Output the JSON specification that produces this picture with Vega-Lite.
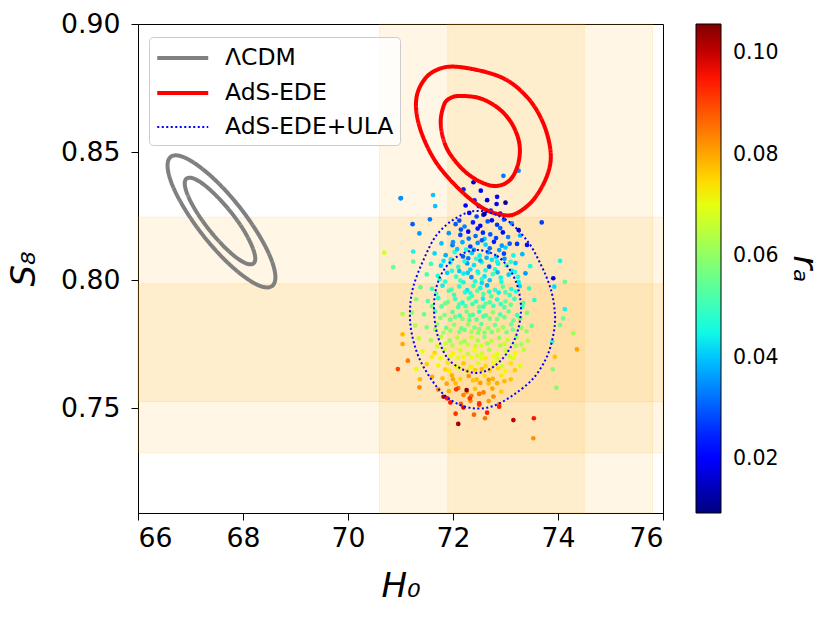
{
  "$schema": "https://vega.github.io/schema/vega-lite/v6.json",
  "description": "H0 vs S8 posterior contours with AdS-EDE+ULA samples coloured by r_a",
  "width": 525,
  "height": 489,
  "autosize": "none",
  "padding": {"left": 138, "top": 24, "right": 168, "bottom": 108},
  "config": {
    "view": {"stroke": "black", "strokeWidth": 1},
    "font": "DejaVu Sans",
    "axis": {
      "grid": false,
      "domainColor": "black",
      "tickColor": "black",
      "tickSize": 7,
      "labelColor": "black",
      "labelFont": "DejaVu Sans",
      "labelFontSize": 26.7,
      "titleColor": "black",
      "titleFont": "DejaVu Sans",
      "titleFontSize": 34,
      "titleFontStyle": "italic",
      "titleFontWeight": "normal"
    },
    "legend": {
      "labelFont": "DejaVu Sans",
      "labelColor": "black",
      "titleFont": "DejaVu Sans",
      "titleColor": "black"
    }
  },
  "datasets": {
    "vband": [
      {"lo": 70.6, "hi": 75.8},
      {"lo": 71.9, "hi": 74.5}
    ],
    "hband": [
      {"lo": 0.7325, "hi": 0.8245},
      {"lo": 0.7525, "hi": 0.7985}
    ],
    "contours": [
      {"model": "ΛCDM", "level": "L2", "i": 0, "H0": 68.558, "S8": 0.7977},
      {"model": "ΛCDM", "level": "L2", "i": 1, "H0": 68.352, "S8": 0.7975},
      {"model": "ΛCDM", "level": "L2", "i": 2, "H0": 68.030, "S8": 0.8012},
      {"model": "ΛCDM", "level": "L2", "i": 3, "H0": 67.642, "S8": 0.8081},
      {"model": "ΛCDM", "level": "L2", "i": 4, "H0": 67.245, "S8": 0.8173},
      {"model": "ΛCDM", "level": "L2", "i": 5, "H0": 66.901, "S8": 0.8274},
      {"model": "ΛCDM", "level": "L2", "i": 6, "H0": 66.662, "S8": 0.8367},
      {"model": "ΛCDM", "level": "L2", "i": 7, "H0": 66.564, "S8": 0.8440},
      {"model": "ΛCDM", "level": "L2", "i": 8, "H0": 66.622, "S8": 0.8481},
      {"model": "ΛCDM", "level": "L2", "i": 9, "H0": 66.828, "S8": 0.8483},
      {"model": "ΛCDM", "level": "L2", "i": 10, "H0": 67.150, "S8": 0.8446},
      {"model": "ΛCDM", "level": "L2", "i": 11, "H0": 67.538, "S8": 0.8377},
      {"model": "ΛCDM", "level": "L2", "i": 12, "H0": 67.935, "S8": 0.8285},
      {"model": "ΛCDM", "level": "L2", "i": 13, "H0": 68.279, "S8": 0.8184},
      {"model": "ΛCDM", "level": "L2", "i": 14, "H0": 68.518, "S8": 0.8091},
      {"model": "ΛCDM", "level": "L2", "i": 15, "H0": 68.616, "S8": 0.8018},
      {"model": "ΛCDM", "level": "L1", "i": 0, "H0": 68.200, "S8": 0.8065},
      {"model": "ΛCDM", "level": "L1", "i": 1, "H0": 68.071, "S8": 0.8064},
      {"model": "ΛCDM", "level": "L1", "i": 2, "H0": 67.865, "S8": 0.8089},
      {"model": "ΛCDM", "level": "L1", "i": 3, "H0": 67.613, "S8": 0.8136},
      {"model": "ΛCDM", "level": "L1", "i": 4, "H0": 67.353, "S8": 0.8197},
      {"model": "ΛCDM", "level": "L1", "i": 5, "H0": 67.124, "S8": 0.8263},
      {"model": "ΛCDM", "level": "L1", "i": 6, "H0": 66.963, "S8": 0.8324},
      {"model": "ΛCDM", "level": "L1", "i": 7, "H0": 66.892, "S8": 0.8371},
      {"model": "ΛCDM", "level": "L1", "i": 8, "H0": 66.924, "S8": 0.8396},
      {"model": "ΛCDM", "level": "L1", "i": 9, "H0": 67.053, "S8": 0.8397},
      {"model": "ΛCDM", "level": "L1", "i": 10, "H0": 67.259, "S8": 0.8372},
      {"model": "ΛCDM", "level": "L1", "i": 11, "H0": 67.511, "S8": 0.8325},
      {"model": "ΛCDM", "level": "L1", "i": 12, "H0": 67.771, "S8": 0.8265},
      {"model": "ΛCDM", "level": "L1", "i": 13, "H0": 68.000, "S8": 0.8199},
      {"model": "ΛCDM", "level": "L1", "i": 14, "H0": 68.161, "S8": 0.8137},
      {"model": "ΛCDM", "level": "L1", "i": 15, "H0": 68.232, "S8": 0.8090},
      {"model": "AdS-EDE", "level": "E2", "i": 0, "H0": 72.070, "S8": 0.8833},
      {"model": "AdS-EDE", "level": "E2", "i": 1, "H0": 72.895, "S8": 0.8794},
      {"model": "AdS-EDE", "level": "E2", "i": 2, "H0": 73.404, "S8": 0.8716},
      {"model": "AdS-EDE", "level": "E2", "i": 3, "H0": 73.720, "S8": 0.8612},
      {"model": "AdS-EDE", "level": "E2", "i": 4, "H0": 73.861, "S8": 0.8495},
      {"model": "AdS-EDE", "level": "E2", "i": 5, "H0": 73.785, "S8": 0.8404},
      {"model": "AdS-EDE", "level": "E2", "i": 6, "H0": 73.530, "S8": 0.8313},
      {"model": "AdS-EDE", "level": "E2", "i": 7, "H0": 73.213, "S8": 0.8261},
      {"model": "AdS-EDE", "level": "E2", "i": 8, "H0": 72.958, "S8": 0.8254},
      {"model": "AdS-EDE", "level": "E2", "i": 9, "H0": 72.577, "S8": 0.8280},
      {"model": "AdS-EDE", "level": "E2", "i": 10, "H0": 72.133, "S8": 0.8352},
      {"model": "AdS-EDE", "level": "E2", "i": 11, "H0": 71.690, "S8": 0.8456},
      {"model": "AdS-EDE", "level": "E2", "i": 12, "H0": 71.404, "S8": 0.8573},
      {"model": "AdS-EDE", "level": "E2", "i": 13, "H0": 71.295, "S8": 0.8677},
      {"model": "AdS-EDE", "level": "E2", "i": 14, "H0": 71.371, "S8": 0.8755},
      {"model": "AdS-EDE", "level": "E2", "i": 15, "H0": 71.625, "S8": 0.8814},
      {"model": "AdS-EDE", "level": "E1", "i": 0, "H0": 72.133, "S8": 0.8719},
      {"model": "AdS-EDE", "level": "E1", "i": 1, "H0": 72.514, "S8": 0.8710},
      {"model": "AdS-EDE", "level": "E1", "i": 2, "H0": 72.863, "S8": 0.8671},
      {"model": "AdS-EDE", "level": "E1", "i": 3, "H0": 73.118, "S8": 0.8612},
      {"model": "AdS-EDE", "level": "E1", "i": 4, "H0": 73.263, "S8": 0.8534},
      {"model": "AdS-EDE", "level": "E1", "i": 5, "H0": 73.244, "S8": 0.8456},
      {"model": "AdS-EDE", "level": "E1", "i": 6, "H0": 73.086, "S8": 0.8391},
      {"model": "AdS-EDE", "level": "E1", "i": 7, "H0": 72.800, "S8": 0.8367},
      {"model": "AdS-EDE", "level": "E1", "i": 8, "H0": 72.451, "S8": 0.8391},
      {"model": "AdS-EDE", "level": "E1", "i": 9, "H0": 72.133, "S8": 0.8443},
      {"model": "AdS-EDE", "level": "E1", "i": 10, "H0": 71.867, "S8": 0.8521},
      {"model": "AdS-EDE", "level": "E1", "i": 11, "H0": 71.766, "S8": 0.8612},
      {"model": "AdS-EDE", "level": "E1", "i": 12, "H0": 71.829, "S8": 0.8684},
      {"model": "AdS-EDE", "level": "E1", "i": 13, "H0": 71.943, "S8": 0.8710},
      {"model": "AdS-EDE+ULA", "level": "U2", "i": 0, "H0": 72.476, "S8": 0.8270},
      {"model": "AdS-EDE+ULA", "level": "U2", "i": 1, "H0": 72.990, "S8": 0.8238},
      {"model": "AdS-EDE+ULA", "level": "U2", "i": 2, "H0": 73.404, "S8": 0.8156},
      {"model": "AdS-EDE+ULA", "level": "U2", "i": 3, "H0": 73.676, "S8": 0.8059},
      {"model": "AdS-EDE+ULA", "level": "U2", "i": 4, "H0": 73.867, "S8": 0.7961},
      {"model": "AdS-EDE+ULA", "level": "U2", "i": 5, "H0": 73.943, "S8": 0.7863},
      {"model": "AdS-EDE+ULA", "level": "U2", "i": 6, "H0": 73.910, "S8": 0.7785},
      {"model": "AdS-EDE+ULA", "level": "U2", "i": 7, "H0": 73.785, "S8": 0.7699},
      {"model": "AdS-EDE+ULA", "level": "U2", "i": 8, "H0": 73.530, "S8": 0.7616},
      {"model": "AdS-EDE+ULA", "level": "U2", "i": 9, "H0": 73.149, "S8": 0.7551},
      {"model": "AdS-EDE+ULA", "level": "U2", "i": 10, "H0": 72.768, "S8": 0.7508},
      {"model": "AdS-EDE+ULA", "level": "U2", "i": 11, "H0": 72.387, "S8": 0.7499},
      {"model": "AdS-EDE+ULA", "level": "U2", "i": 12, "H0": 72.006, "S8": 0.7525},
      {"model": "AdS-EDE+ULA", "level": "U2", "i": 13, "H0": 71.690, "S8": 0.7583},
      {"model": "AdS-EDE+ULA", "level": "U2", "i": 14, "H0": 71.371, "S8": 0.7688},
      {"model": "AdS-EDE+ULA", "level": "U2", "i": 15, "H0": 71.213, "S8": 0.7792},
      {"model": "AdS-EDE+ULA", "level": "U2", "i": 16, "H0": 71.181, "S8": 0.7883},
      {"model": "AdS-EDE+ULA", "level": "U2", "i": 17, "H0": 71.244, "S8": 0.7974},
      {"model": "AdS-EDE+ULA", "level": "U2", "i": 18, "H0": 71.437, "S8": 0.8078},
      {"model": "AdS-EDE+ULA", "level": "U2", "i": 19, "H0": 71.690, "S8": 0.8176},
      {"model": "AdS-EDE+ULA", "level": "U2", "i": 20, "H0": 72.057, "S8": 0.8242},
      {"model": "AdS-EDE+ULA", "level": "U1", "i": 0, "H0": 72.476, "S8": 0.8117},
      {"model": "AdS-EDE+ULA", "level": "U1", "i": 1, "H0": 72.838, "S8": 0.8094},
      {"model": "AdS-EDE+ULA", "level": "U1", "i": 2, "H0": 73.086, "S8": 0.8039},
      {"model": "AdS-EDE+ULA", "level": "U1", "i": 3, "H0": 73.238, "S8": 0.7969},
      {"model": "AdS-EDE+ULA", "level": "U1", "i": 4, "H0": 73.295, "S8": 0.7883},
      {"model": "AdS-EDE+ULA", "level": "U1", "i": 5, "H0": 73.219, "S8": 0.7793},
      {"model": "AdS-EDE+ULA", "level": "U1", "i": 6, "H0": 73.029, "S8": 0.7715},
      {"model": "AdS-EDE+ULA", "level": "U1", "i": 7, "H0": 72.762, "S8": 0.7660},
      {"model": "AdS-EDE+ULA", "level": "U1", "i": 8, "H0": 72.457, "S8": 0.7637},
      {"model": "AdS-EDE+ULA", "level": "U1", "i": 9, "H0": 72.133, "S8": 0.7656},
      {"model": "AdS-EDE+ULA", "level": "U1", "i": 10, "H0": 71.867, "S8": 0.7703},
      {"model": "AdS-EDE+ULA", "level": "U1", "i": 11, "H0": 71.695, "S8": 0.7793},
      {"model": "AdS-EDE+ULA", "level": "U1", "i": 12, "H0": 71.638, "S8": 0.7891},
      {"model": "AdS-EDE+ULA", "level": "U1", "i": 13, "H0": 71.695, "S8": 0.7980},
      {"model": "AdS-EDE+ULA", "level": "U1", "i": 14, "H0": 71.867, "S8": 0.8051},
      {"model": "AdS-EDE+ULA", "level": "U1", "i": 15, "H0": 72.133, "S8": 0.8098}
    ],
    "samples": [
      {"H0": 72.31, "S8": 0.8262, "ra": 0.022}, {"H0": 72.58, "S8": 0.8255, "ra": 0.018}, {"H0": 72.72, "S8": 0.8271, "ra": 0.025}, {"H0": 72.45, "S8": 0.8248, "ra": 0.028}, {"H0": 72.90, "S8": 0.8259, "ra": 0.020},
      {"H0": 72.05, "S8": 0.8218, "ra": 0.030}, {"H0": 72.38, "S8": 0.8225, "ra": 0.024}, {"H0": 72.52, "S8": 0.8212, "ra": 0.020}, {"H0": 72.66, "S8": 0.8229, "ra": 0.030}, {"H0": 72.84, "S8": 0.8216, "ra": 0.026}, {"H0": 73.12, "S8": 0.8221, "ra": 0.035}, {"H0": 72.22, "S8": 0.8209, "ra": 0.034},
      {"H0": 71.92, "S8": 0.8183, "ra": 0.036}, {"H0": 72.14, "S8": 0.8176, "ra": 0.028}, {"H0": 72.29, "S8": 0.8189, "ra": 0.021}, {"H0": 72.43, "S8": 0.8172, "ra": 0.032}, {"H0": 72.57, "S8": 0.8185, "ra": 0.025}, {"H0": 72.71, "S8": 0.8178, "ra": 0.030}, {"H0": 72.95, "S8": 0.8186, "ra": 0.020}, {"H0": 73.28, "S8": 0.8174, "ra": 0.038}, {"H0": 72.60, "S8": 0.8161, "ra": 0.040},
      {"H0": 71.78, "S8": 0.8143, "ra": 0.040}, {"H0": 71.99, "S8": 0.8136, "ra": 0.033}, {"H0": 72.18, "S8": 0.8148, "ra": 0.038}, {"H0": 72.33, "S8": 0.8131, "ra": 0.027}, {"H0": 72.47, "S8": 0.8145, "ra": 0.035}, {"H0": 72.62, "S8": 0.8138, "ra": 0.042}, {"H0": 72.78, "S8": 0.8149, "ra": 0.024}, {"H0": 72.93, "S8": 0.8134, "ra": 0.036}, {"H0": 73.08, "S8": 0.8142, "ra": 0.030}, {"H0": 73.41, "S8": 0.8137, "ra": 0.022}, {"H0": 72.25, "S8": 0.8119, "ra": 0.045},
      {"H0": 71.65, "S8": 0.8104, "ra": 0.042}, {"H0": 71.86, "S8": 0.8097, "ra": 0.038}, {"H0": 72.03, "S8": 0.8109, "ra": 0.046}, {"H0": 72.19, "S8": 0.8092, "ra": 0.030}, {"H0": 72.36, "S8": 0.8106, "ra": 0.040}, {"H0": 72.51, "S8": 0.8095, "ra": 0.044}, {"H0": 72.67, "S8": 0.8108, "ra": 0.036}, {"H0": 72.82, "S8": 0.8091, "ra": 0.041}, {"H0": 72.97, "S8": 0.8103, "ra": 0.028}, {"H0": 73.15, "S8": 0.8096, "ra": 0.045}, {"H0": 73.32, "S8": 0.8101, "ra": 0.039}, {"H0": 72.44, "S8": 0.8083, "ra": 0.048}, {"H0": 72.74, "S8": 0.8079, "ra": 0.043},
      {"H0": 71.58, "S8": 0.8063, "ra": 0.050}, {"H0": 71.77, "S8": 0.8056, "ra": 0.041}, {"H0": 71.95, "S8": 0.8068, "ra": 0.045}, {"H0": 72.10, "S8": 0.8051, "ra": 0.048}, {"H0": 72.27, "S8": 0.8065, "ra": 0.036}, {"H0": 72.40, "S8": 0.8058, "ra": 0.043}, {"H0": 72.55, "S8": 0.8069, "ra": 0.047}, {"H0": 72.69, "S8": 0.8052, "ra": 0.029}, {"H0": 72.86, "S8": 0.8064, "ra": 0.044}, {"H0": 73.02, "S8": 0.8057, "ra": 0.050}, {"H0": 73.19, "S8": 0.8066, "ra": 0.040}, {"H0": 73.47, "S8": 0.8054, "ra": 0.046}, {"H0": 72.33, "S8": 0.8041, "ra": 0.042}, {"H0": 72.62, "S8": 0.8038, "ra": 0.046},
      {"H0": 71.50, "S8": 0.8022, "ra": 0.052}, {"H0": 71.71, "S8": 0.8016, "ra": 0.046}, {"H0": 71.89, "S8": 0.8028, "ra": 0.041}, {"H0": 72.06, "S8": 0.8013, "ra": 0.049}, {"H0": 72.20, "S8": 0.8025, "ra": 0.044}, {"H0": 72.35, "S8": 0.8011, "ra": 0.035}, {"H0": 72.48, "S8": 0.8027, "ra": 0.047}, {"H0": 72.60, "S8": 0.8014, "ra": 0.043}, {"H0": 72.76, "S8": 0.8023, "ra": 0.050}, {"H0": 72.91, "S8": 0.8009, "ra": 0.045}, {"H0": 73.06, "S8": 0.8021, "ra": 0.041}, {"H0": 73.24, "S8": 0.8012, "ra": 0.048}, {"H0": 73.38, "S8": 0.8026, "ra": 0.036}, {"H0": 72.14, "S8": 0.7998, "ra": 0.050}, {"H0": 72.42, "S8": 0.7995, "ra": 0.046}, {"H0": 72.70, "S8": 0.7999, "ra": 0.040},
      {"H0": 71.38, "S8": 0.7972, "ra": 0.055}, {"H0": 71.60, "S8": 0.7966, "ra": 0.049}, {"H0": 71.80, "S8": 0.7978, "ra": 0.044}, {"H0": 71.97, "S8": 0.7963, "ra": 0.052}, {"H0": 72.12, "S8": 0.7975, "ra": 0.047}, {"H0": 72.27, "S8": 0.7961, "ra": 0.043}, {"H0": 72.39, "S8": 0.7977, "ra": 0.050}, {"H0": 72.52, "S8": 0.7968, "ra": 0.045}, {"H0": 72.65, "S8": 0.7979, "ra": 0.038}, {"H0": 72.80, "S8": 0.7962, "ra": 0.048}, {"H0": 72.95, "S8": 0.7974, "ra": 0.053}, {"H0": 73.11, "S8": 0.7965, "ra": 0.046}, {"H0": 73.27, "S8": 0.7976, "ra": 0.042}, {"H0": 73.45, "S8": 0.7967, "ra": 0.050}, {"H0": 72.33, "S8": 0.7949, "ra": 0.047}, {"H0": 72.58, "S8": 0.7945, "ra": 0.052}, {"H0": 72.87, "S8": 0.7951, "ra": 0.044},
      {"H0": 71.30, "S8": 0.7925, "ra": 0.058}, {"H0": 71.52, "S8": 0.7918, "ra": 0.052}, {"H0": 71.72, "S8": 0.7929, "ra": 0.048}, {"H0": 71.90, "S8": 0.7914, "ra": 0.055}, {"H0": 72.04, "S8": 0.7926, "ra": 0.050}, {"H0": 72.18, "S8": 0.7912, "ra": 0.046}, {"H0": 72.30, "S8": 0.7928, "ra": 0.053}, {"H0": 72.44, "S8": 0.7916, "ra": 0.049}, {"H0": 72.57, "S8": 0.7927, "ra": 0.044}, {"H0": 72.70, "S8": 0.7913, "ra": 0.051}, {"H0": 72.84, "S8": 0.7924, "ra": 0.047}, {"H0": 73.00, "S8": 0.7917, "ra": 0.055}, {"H0": 73.17, "S8": 0.7926, "ra": 0.049}, {"H0": 73.34, "S8": 0.7911, "ra": 0.053}, {"H0": 73.55, "S8": 0.7922, "ra": 0.047}, {"H0": 72.24, "S8": 0.7898, "ra": 0.052}, {"H0": 72.50, "S8": 0.7895, "ra": 0.056}, {"H0": 72.77, "S8": 0.7899, "ra": 0.050},
      {"H0": 71.22, "S8": 0.7873, "ra": 0.060}, {"H0": 71.45, "S8": 0.7866, "ra": 0.055}, {"H0": 71.66, "S8": 0.7878, "ra": 0.052}, {"H0": 71.84, "S8": 0.7863, "ra": 0.058}, {"H0": 71.99, "S8": 0.7875, "ra": 0.053}, {"H0": 72.13, "S8": 0.7861, "ra": 0.050}, {"H0": 72.26, "S8": 0.7877, "ra": 0.056}, {"H0": 72.38, "S8": 0.7864, "ra": 0.052}, {"H0": 72.50, "S8": 0.7876, "ra": 0.048}, {"H0": 72.63, "S8": 0.7862, "ra": 0.054}, {"H0": 72.76, "S8": 0.7874, "ra": 0.058}, {"H0": 72.90, "S8": 0.7865, "ra": 0.051}, {"H0": 73.06, "S8": 0.7877, "ra": 0.055}, {"H0": 73.22, "S8": 0.7863, "ra": 0.049}, {"H0": 73.41, "S8": 0.7872, "ra": 0.057}, {"H0": 72.18, "S8": 0.7848, "ra": 0.058}, {"H0": 72.45, "S8": 0.7845, "ra": 0.054}, {"H0": 72.70, "S8": 0.7849, "ra": 0.056},
      {"H0": 71.28, "S8": 0.7822, "ra": 0.063}, {"H0": 71.50, "S8": 0.7815, "ra": 0.058}, {"H0": 71.70, "S8": 0.7827, "ra": 0.061}, {"H0": 71.87, "S8": 0.7813, "ra": 0.056}, {"H0": 72.02, "S8": 0.7825, "ra": 0.059}, {"H0": 72.16, "S8": 0.7811, "ra": 0.055}, {"H0": 72.29, "S8": 0.7826, "ra": 0.060}, {"H0": 72.41, "S8": 0.7814, "ra": 0.057}, {"H0": 72.54, "S8": 0.7828, "ra": 0.053}, {"H0": 72.67, "S8": 0.7812, "ra": 0.060}, {"H0": 72.80, "S8": 0.7824, "ra": 0.056}, {"H0": 72.95, "S8": 0.7816, "ra": 0.061}, {"H0": 73.11, "S8": 0.7827, "ra": 0.055}, {"H0": 73.30, "S8": 0.7813, "ra": 0.059}, {"H0": 73.50, "S8": 0.7821, "ra": 0.054}, {"H0": 72.35, "S8": 0.7798, "ra": 0.062}, {"H0": 72.60, "S8": 0.7795, "ra": 0.058},
      {"H0": 71.35, "S8": 0.7772, "ra": 0.066}, {"H0": 71.58, "S8": 0.7765, "ra": 0.062}, {"H0": 71.77, "S8": 0.7778, "ra": 0.065}, {"H0": 71.94, "S8": 0.7763, "ra": 0.060}, {"H0": 72.08, "S8": 0.7775, "ra": 0.064}, {"H0": 72.22, "S8": 0.7761, "ra": 0.061}, {"H0": 72.35, "S8": 0.7776, "ra": 0.067}, {"H0": 72.47, "S8": 0.7764, "ra": 0.063}, {"H0": 72.60, "S8": 0.7777, "ra": 0.059}, {"H0": 72.73, "S8": 0.7762, "ra": 0.065}, {"H0": 72.88, "S8": 0.7774, "ra": 0.061}, {"H0": 73.04, "S8": 0.7766, "ra": 0.066}, {"H0": 73.21, "S8": 0.7778, "ra": 0.060}, {"H0": 73.42, "S8": 0.7763, "ra": 0.064}, {"H0": 72.28, "S8": 0.7748, "ra": 0.066}, {"H0": 72.54, "S8": 0.7745, "ra": 0.068},
      {"H0": 71.42, "S8": 0.7722, "ra": 0.070}, {"H0": 71.65, "S8": 0.7716, "ra": 0.075}, {"H0": 71.84, "S8": 0.7728, "ra": 0.067}, {"H0": 72.00, "S8": 0.7713, "ra": 0.072}, {"H0": 72.14, "S8": 0.7725, "ra": 0.068}, {"H0": 72.28, "S8": 0.7711, "ra": 0.065}, {"H0": 72.41, "S8": 0.7726, "ra": 0.071}, {"H0": 72.55, "S8": 0.7714, "ra": 0.067}, {"H0": 72.69, "S8": 0.7727, "ra": 0.063}, {"H0": 72.84, "S8": 0.7712, "ra": 0.070}, {"H0": 73.00, "S8": 0.7724, "ra": 0.066}, {"H0": 73.18, "S8": 0.7715, "ra": 0.072}, {"H0": 73.35, "S8": 0.7727, "ra": 0.065}, {"H0": 72.35, "S8": 0.7698, "ra": 0.070}, {"H0": 72.62, "S8": 0.7695, "ra": 0.073},
      {"H0": 71.50, "S8": 0.7672, "ra": 0.076}, {"H0": 71.72, "S8": 0.7666, "ra": 0.072}, {"H0": 71.90, "S8": 0.7678, "ra": 0.074}, {"H0": 72.06, "S8": 0.7663, "ra": 0.070}, {"H0": 72.20, "S8": 0.7675, "ra": 0.077}, {"H0": 72.34, "S8": 0.7661, "ra": 0.073}, {"H0": 72.48, "S8": 0.7676, "ra": 0.069}, {"H0": 72.62, "S8": 0.7664, "ra": 0.075}, {"H0": 72.77, "S8": 0.7677, "ra": 0.071}, {"H0": 72.93, "S8": 0.7663, "ra": 0.068}, {"H0": 73.10, "S8": 0.7675, "ra": 0.074}, {"H0": 73.28, "S8": 0.7665, "ra": 0.070}, {"H0": 72.42, "S8": 0.7648, "ra": 0.076},
      {"H0": 71.60, "S8": 0.7622, "ra": 0.080}, {"H0": 71.80, "S8": 0.7616, "ra": 0.077}, {"H0": 71.98, "S8": 0.7628, "ra": 0.079}, {"H0": 72.14, "S8": 0.7613, "ra": 0.075}, {"H0": 72.30, "S8": 0.7625, "ra": 0.082}, {"H0": 72.45, "S8": 0.7611, "ra": 0.078}, {"H0": 72.60, "S8": 0.7626, "ra": 0.074}, {"H0": 72.76, "S8": 0.7614, "ra": 0.079}, {"H0": 72.92, "S8": 0.7627, "ra": 0.073}, {"H0": 73.10, "S8": 0.7612, "ra": 0.077}, {"H0": 72.52, "S8": 0.7598, "ra": 0.081},
      {"H0": 71.72, "S8": 0.7572, "ra": 0.083}, {"H0": 71.92, "S8": 0.7566, "ra": 0.079}, {"H0": 72.10, "S8": 0.7578, "ra": 0.086}, {"H0": 72.26, "S8": 0.7563, "ra": 0.081}, {"H0": 72.42, "S8": 0.7575, "ra": 0.077}, {"H0": 72.58, "S8": 0.7561, "ra": 0.084}, {"H0": 72.75, "S8": 0.7576, "ra": 0.080}, {"H0": 72.92, "S8": 0.7564, "ra": 0.076}, {"H0": 72.35, "S8": 0.7548, "ra": 0.085},
      {"H0": 71.95, "S8": 0.7522, "ra": 0.095}, {"H0": 72.15, "S8": 0.7516, "ra": 0.088}, {"H0": 72.33, "S8": 0.7528, "ra": 0.083}, {"H0": 72.50, "S8": 0.7513, "ra": 0.090}, {"H0": 72.68, "S8": 0.7527, "ra": 0.081}, {"H0": 72.88, "S8": 0.7514, "ra": 0.086}, {"H0": 72.20, "S8": 0.7502, "ra": 0.099},
      {"H0": 72.05, "S8": 0.7478, "ra": 0.092}, {"H0": 72.40, "S8": 0.7474, "ra": 0.087}, {"H0": 72.65, "S8": 0.7482, "ra": 0.094},
      {"H0": 71.96, "S8": 0.8081, "ra": 0.044}, {"H0": 72.12, "S8": 0.8035, "ra": 0.040}, {"H0": 72.29, "S8": 0.8085, "ra": 0.033}, {"H0": 72.47, "S8": 0.8033, "ra": 0.045}, {"H0": 72.64, "S8": 0.8087, "ra": 0.038}, {"H0": 72.80, "S8": 0.8042, "ra": 0.047}, {"H0": 72.98, "S8": 0.8083, "ra": 0.035}, {"H0": 73.12, "S8": 0.8036, "ra": 0.043},
      {"H0": 71.85, "S8": 0.7994, "ra": 0.048}, {"H0": 72.02, "S8": 0.7942, "ra": 0.050}, {"H0": 72.20, "S8": 0.7991, "ra": 0.045}, {"H0": 72.36, "S8": 0.7938, "ra": 0.049}, {"H0": 72.55, "S8": 0.7989, "ra": 0.042}, {"H0": 72.73, "S8": 0.7936, "ra": 0.053}, {"H0": 72.92, "S8": 0.7993, "ra": 0.046}, {"H0": 73.08, "S8": 0.7941, "ra": 0.050}, {"H0": 73.25, "S8": 0.7992, "ra": 0.044},
      {"H0": 71.78, "S8": 0.7897, "ra": 0.054}, {"H0": 71.95, "S8": 0.7845, "ra": 0.056}, {"H0": 72.10, "S8": 0.7894, "ra": 0.051}, {"H0": 72.31, "S8": 0.7843, "ra": 0.055}, {"H0": 72.58, "S8": 0.7896, "ra": 0.049}, {"H0": 72.84, "S8": 0.7847, "ra": 0.057}, {"H0": 72.98, "S8": 0.7893, "ra": 0.052}, {"H0": 73.15, "S8": 0.7842, "ra": 0.055}, {"H0": 73.32, "S8": 0.7896, "ra": 0.050},
      {"H0": 71.82, "S8": 0.7795, "ra": 0.062}, {"H0": 71.99, "S8": 0.7745, "ra": 0.064}, {"H0": 72.12, "S8": 0.7797, "ra": 0.058}, {"H0": 72.43, "S8": 0.7742, "ra": 0.066}, {"H0": 72.48, "S8": 0.7794, "ra": 0.060}, {"H0": 72.74, "S8": 0.7797, "ra": 0.057}, {"H0": 72.90, "S8": 0.7744, "ra": 0.063}, {"H0": 73.02, "S8": 0.7796, "ra": 0.058}, {"H0": 73.20, "S8": 0.7743, "ra": 0.062},
      {"H0": 71.76, "S8": 0.7694, "ra": 0.071}, {"H0": 71.93, "S8": 0.7645, "ra": 0.073}, {"H0": 72.10, "S8": 0.7696, "ra": 0.069}, {"H0": 72.27, "S8": 0.7646, "ra": 0.074}, {"H0": 72.55, "S8": 0.7694, "ra": 0.070}, {"H0": 72.70, "S8": 0.7647, "ra": 0.075}, {"H0": 72.85, "S8": 0.7693, "ra": 0.068}, {"H0": 73.00, "S8": 0.7645, "ra": 0.072}, {"H0": 73.15, "S8": 0.7695, "ra": 0.069},
      {"H0": 71.88, "S8": 0.7595, "ra": 0.080}, {"H0": 72.05, "S8": 0.7596, "ra": 0.078}, {"H0": 72.20, "S8": 0.7551, "ra": 0.084}, {"H0": 72.68, "S8": 0.7596, "ra": 0.077}, {"H0": 72.84, "S8": 0.7597, "ra": 0.079}, {"H0": 72.50, "S8": 0.7555, "ra": 0.085}, {"H0": 72.77, "S8": 0.7545, "ra": 0.083},
      {"H0": 72.00, "S8": 0.8148, "ra": 0.036}, {"H0": 72.55, "S8": 0.8155, "ra": 0.030}, {"H0": 72.88, "S8": 0.8117, "ra": 0.037}, {"H0": 73.22, "S8": 0.8141, "ra": 0.026}, {"H0": 72.12, "S8": 0.8232, "ra": 0.028}, {"H0": 72.49, "S8": 0.8289, "ra": 0.018}, {"H0": 72.74, "S8": 0.8233, "ra": 0.022}, {"H0": 72.97, "S8": 0.8236, "ra": 0.030}, {"H0": 72.24, "S8": 0.8291, "ra": 0.020}, {"H0": 72.65, "S8": 0.8312, "ra": 0.016},
      {"H0": 72.08, "S8": 0.8121, "ra": 0.040}, {"H0": 72.40, "S8": 0.8118, "ra": 0.036}, {"H0": 72.70, "S8": 0.8124, "ra": 0.032}, {"H0": 73.00, "S8": 0.8127, "ra": 0.041}, {"H0": 72.22, "S8": 0.8073, "ra": 0.046}, {"H0": 72.52, "S8": 0.8076, "ra": 0.039}, {"H0": 72.84, "S8": 0.8072, "ra": 0.045}, {"H0": 73.10, "S8": 0.8071, "ra": 0.048}, {"H0": 71.82, "S8": 0.8075, "ra": 0.043},
      {"H0": 71.98, "S8": 0.8036, "ra": 0.047}, {"H0": 72.28, "S8": 0.8028, "ra": 0.041}, {"H0": 72.55, "S8": 0.8004, "ra": 0.048}, {"H0": 72.85, "S8": 0.8030, "ra": 0.039}, {"H0": 73.18, "S8": 0.8031, "ra": 0.046}, {"H0": 71.75, "S8": 0.8003, "ra": 0.050},
      {"H0": 71.92, "S8": 0.7958, "ra": 0.051}, {"H0": 72.23, "S8": 0.7952, "ra": 0.046}, {"H0": 72.46, "S8": 0.7958, "ra": 0.053}, {"H0": 72.69, "S8": 0.7954, "ra": 0.048}, {"H0": 73.00, "S8": 0.7952, "ra": 0.051}, {"H0": 73.20, "S8": 0.7955, "ra": 0.047}, {"H0": 71.68, "S8": 0.7946, "ra": 0.054},
      {"H0": 71.85, "S8": 0.7908, "ra": 0.056}, {"H0": 72.12, "S8": 0.7905, "ra": 0.052}, {"H0": 72.37, "S8": 0.7906, "ra": 0.050}, {"H0": 72.62, "S8": 0.7907, "ra": 0.055}, {"H0": 72.91, "S8": 0.7906, "ra": 0.049}, {"H0": 73.10, "S8": 0.7903, "ra": 0.054}, {"H0": 71.60, "S8": 0.7898, "ra": 0.057},
      {"H0": 71.76, "S8": 0.7852, "ra": 0.059}, {"H0": 72.04, "S8": 0.7856, "ra": 0.055}, {"H0": 72.58, "S8": 0.7858, "ra": 0.052}, {"H0": 72.98, "S8": 0.7855, "ra": 0.056}, {"H0": 73.28, "S8": 0.7851, "ra": 0.058}, {"H0": 72.32, "S8": 0.7862, "ra": 0.054},
      {"H0": 71.66, "S8": 0.7806, "ra": 0.062}, {"H0": 71.95, "S8": 0.7802, "ra": 0.060}, {"H0": 72.22, "S8": 0.7805, "ra": 0.056}, {"H0": 72.50, "S8": 0.7808, "ra": 0.059}, {"H0": 72.86, "S8": 0.7803, "ra": 0.062}, {"H0": 73.14, "S8": 0.7806, "ra": 0.057}, {"H0": 73.40, "S8": 0.7800, "ra": 0.060},
      {"H0": 71.86, "S8": 0.7752, "ra": 0.066}, {"H0": 72.15, "S8": 0.7755, "ra": 0.063}, {"H0": 72.65, "S8": 0.7752, "ra": 0.061}, {"H0": 72.98, "S8": 0.7750, "ra": 0.067}, {"H0": 73.30, "S8": 0.7749, "ra": 0.062}, {"H0": 71.70, "S8": 0.7741, "ra": 0.068},
      {"H0": 71.95, "S8": 0.7703, "ra": 0.070}, {"H0": 72.20, "S8": 0.7700, "ra": 0.072}, {"H0": 72.46, "S8": 0.7705, "ra": 0.068}, {"H0": 72.78, "S8": 0.7702, "ra": 0.071}, {"H0": 73.08, "S8": 0.7701, "ra": 0.067}, {"H0": 71.60, "S8": 0.7700, "ra": 0.073},
      {"H0": 71.85, "S8": 0.7651, "ra": 0.075}, {"H0": 72.12, "S8": 0.7655, "ra": 0.072}, {"H0": 72.55, "S8": 0.7652, "ra": 0.078}, {"H0": 72.86, "S8": 0.7655, "ra": 0.074}, {"H0": 73.18, "S8": 0.7648, "ra": 0.076},
      {"H0": 72.00, "S8": 0.7612, "ra": 0.080}, {"H0": 72.38, "S8": 0.7608, "ra": 0.077}, {"H0": 72.68, "S8": 0.7610, "ra": 0.081}, {"H0": 72.98, "S8": 0.7605, "ra": 0.078},
      {"H0": 72.30, "S8": 0.8162, "ra": 0.032}, {"H0": 72.82, "S8": 0.8164, "ra": 0.028}, {"H0": 73.05, "S8": 0.8168, "ra": 0.034}, {"H0": 72.15, "S8": 0.8197, "ra": 0.029}, {"H0": 72.47, "S8": 0.8201, "ra": 0.023}, {"H0": 72.90, "S8": 0.8203, "ra": 0.031},
      {"H0": 70.69, "S8": 0.8107, "ra": 0.068}, {"H0": 70.86, "S8": 0.8050, "ra": 0.055}, {"H0": 71.24, "S8": 0.8111, "ra": 0.045}, {"H0": 71.24, "S8": 0.8072, "ra": 0.055}, {"H0": 71.01, "S8": 0.8320, "ra": 0.036}, {"H0": 71.62, "S8": 0.8332, "ra": 0.040}, {"H0": 71.66, "S8": 0.8289, "ra": 0.040}, {"H0": 71.23, "S8": 0.8218, "ra": 0.030}, {"H0": 71.36, "S8": 0.8182, "ra": 0.036}, {"H0": 71.56, "S8": 0.8237, "ra": 0.033},
      {"H0": 73.69, "S8": 0.8225, "ra": 0.027}, {"H0": 74.04, "S8": 0.8075, "ra": 0.045}, {"H0": 73.91, "S8": 0.8007, "ra": 0.018}, {"H0": 74.13, "S8": 0.7993, "ra": 0.055}, {"H0": 73.93, "S8": 0.7974, "ra": 0.042},
      {"H0": 71.04, "S8": 0.7867, "ra": 0.063}, {"H0": 71.04, "S8": 0.7788, "ra": 0.078}, {"H0": 71.04, "S8": 0.7750, "ra": 0.080}, {"H0": 70.95, "S8": 0.7652, "ra": 0.090}, {"H0": 71.14, "S8": 0.7685, "ra": 0.085}, {"H0": 71.30, "S8": 0.7652, "ra": 0.070}, {"H0": 71.36, "S8": 0.7581, "ra": 0.083}, {"H0": 71.37, "S8": 0.7612, "ra": 0.078},
      {"H0": 74.36, "S8": 0.7729, "ra": 0.080}, {"H0": 74.29, "S8": 0.7792, "ra": 0.062}, {"H0": 73.97, "S8": 0.7579, "ra": 0.058}, {"H0": 73.90, "S8": 0.7651, "ra": 0.058}, {"H0": 73.94, "S8": 0.7700, "ra": 0.077}, {"H0": 74.13, "S8": 0.7886, "ra": 0.045}, {"H0": 74.10, "S8": 0.7850, "ra": 0.055}, {"H0": 74.04, "S8": 0.7824, "ra": 0.056}, {"H0": 73.89, "S8": 0.7759, "ra": 0.048},
      {"H0": 72.10, "S8": 0.7438, "ra": 0.103}, {"H0": 72.61, "S8": 0.7460, "ra": 0.085}, {"H0": 73.15, "S8": 0.7453, "ra": 0.100}, {"H0": 73.54, "S8": 0.7460, "ra": 0.095}, {"H0": 73.53, "S8": 0.7382, "ra": 0.082}, {"H0": 72.26, "S8": 0.7570, "ra": 0.104}, {"H0": 71.82, "S8": 0.7544, "ra": 0.102}, {"H0": 71.89, "S8": 0.7538, "ra": 0.095}, {"H0": 72.50, "S8": 0.7518, "ra": 0.093}, {"H0": 72.88, "S8": 0.7505, "ra": 0.094}, {"H0": 72.32, "S8": 0.7538, "ra": 0.092}, {"H0": 72.06, "S8": 0.7573, "ra": 0.092},
      {"H0": 71.00, "S8": 0.8319, "ra": 0.035}, {"H0": 72.96, "S8": 0.8407, "ra": 0.033}, {"H0": 72.39, "S8": 0.8382, "ra": 0.015}, {"H0": 72.20, "S8": 0.8354, "ra": 0.025}, {"H0": 72.53, "S8": 0.8349, "ra": 0.020}, {"H0": 72.84, "S8": 0.8325, "ra": 0.022}, {"H0": 73.00, "S8": 0.8302, "ra": 0.012}, {"H0": 72.83, "S8": 0.8297, "ra": 0.020}, {"H0": 72.41, "S8": 0.8311, "ra": 0.025}, {"H0": 73.25, "S8": 0.8427, "ra": 0.035}, {"H0": 72.60, "S8": 0.8258, "ra": 0.012}, {"H0": 73.25, "S8": 0.8195, "ra": 0.015}
    ]
  },
  "layer": [
    {
      "data": {"name": "vband"},
      "mark": {"type": "rect", "fill": "orange", "fillOpacity": 0.1, "stroke": "orange", "strokeOpacity": 0.15, "strokeWidth": 1},
      "encoding": {
        "x": {"field": "lo", "type": "quantitative", "title": "H₀"},
        "x2": {"field": "hi"}
      }
    },
    {
      "data": {"name": "hband"},
      "mark": {"type": "rect", "fill": "orange", "fillOpacity": 0.1, "stroke": "orange", "strokeOpacity": 0.15, "strokeWidth": 1},
      "encoding": {
        "y": {"field": "lo", "type": "quantitative", "title": "S₈"},
        "y2": {"field": "hi"}
      }
    },
    {
      "data": {"name": "samples"},
      "mark": {"type": "circle", "size": 22, "opacity": 1, "strokeWidth": 0},
      "encoding": {
        "x": {
          "field": "H0", "type": "quantitative", "title": "H₀",
          "scale": {"domain": [66, 76], "nice": false, "zero": false},
          "axis": {"values": [66, 68, 70, 72, 74, 76], "labelPadding": 5, "titlePadding": 18}
        },
        "y": {
          "field": "S8", "type": "quantitative", "title": "S₈",
          "scale": {"domain": [0.709, 0.9], "nice": false, "zero": false},
          "axis": {"values": [0.75, 0.8, 0.85, 0.9], "format": ".2f", "labelPadding": 11, "titlePadding": 19}
        },
        "fill": {
          "field": "ra", "type": "quantitative",
          "scale": {
            "type": "linear",
            "nice": false,
            "interpolate": "rgb",
            "domain": [0.0094, 0.0200, 0.0214, 0.0421, 0.0455, 0.0710, 0.0730, 0.0951, 0.0970, 0.1057],
            "range": ["#000080", "#0000ff", "#0000ff", "#00dbff", "#14ffe2", "#eeff08", "#ffec00", "#ff1300", "#e80000", "#800000"]
          },
          "legend": {
            "title": "rₐ",
            "orient": "right",
            "offset": 33,
            "padding": 0,
            "gradientLength": 489,
            "gradientThickness": 25,
            "gradientStrokeColor": "black",
            "gradientStrokeWidth": 1,
            "values": [0.02, 0.04, 0.06, 0.08, 0.1],
            "format": ".2f",
            "labelFontSize": 20.5,
            "labelOffset": 12,
            "labelOverlap": false,
            "titleOrient": "right",
            "titleAnchor": "middle",
            "titleFontSize": 34,
            "titleFontStyle": "italic",
            "titleFontWeight": "normal",
            "titlePadding": 8
          }
        }
      }
    },
    {
      "data": {"name": "contours"},
      "mark": {"type": "line", "interpolate": "cardinal-closed"},
      "encoding": {
        "x": {"field": "H0", "type": "quantitative", "title": "H₀"},
        "y": {"field": "S8", "type": "quantitative", "title": "S₈"},
        "detail": {"field": "level"},
        "order": {"field": "i", "type": "quantitative"},
        "stroke": {
          "field": "model", "type": "nominal",
          "scale": {"domain": ["ΛCDM", "AdS-EDE", "AdS-EDE+ULA"], "range": ["gray", "red", "blue"]},
          "legend": {
            "title": null,
            "orient": "none",
            "legendX": 11,
            "legendY": 13,
            "fillColor": "rgba(255,255,255,0.8)",
            "strokeColor": "#cccccc",
            "cornerRadius": 4,
            "padding": 6,
            "labelFontSize": 23.5,
            "labelLimit": 400,
            "labelOffset": 40,
            "symbolType": "M-1,0H3",
            "symbolSize": 650,
            "rowPadding": 8
          }
        },
        "strokeDash": {
          "field": "model", "type": "nominal",
          "scale": {"domain": ["ΛCDM", "AdS-EDE", "AdS-EDE+ULA"], "range": [[1, 0], [1, 0], [2, 2.5]]},
          "legend": {"title": null}
        },
        "strokeWidth": {
          "field": "model", "type": "nominal",
          "scale": {"type": "ordinal", "domain": ["ΛCDM", "AdS-EDE", "AdS-EDE+ULA"], "range": [4, 4, 2]},
          "legend": {"title": null}
        }
      }
    }
  ]
}
